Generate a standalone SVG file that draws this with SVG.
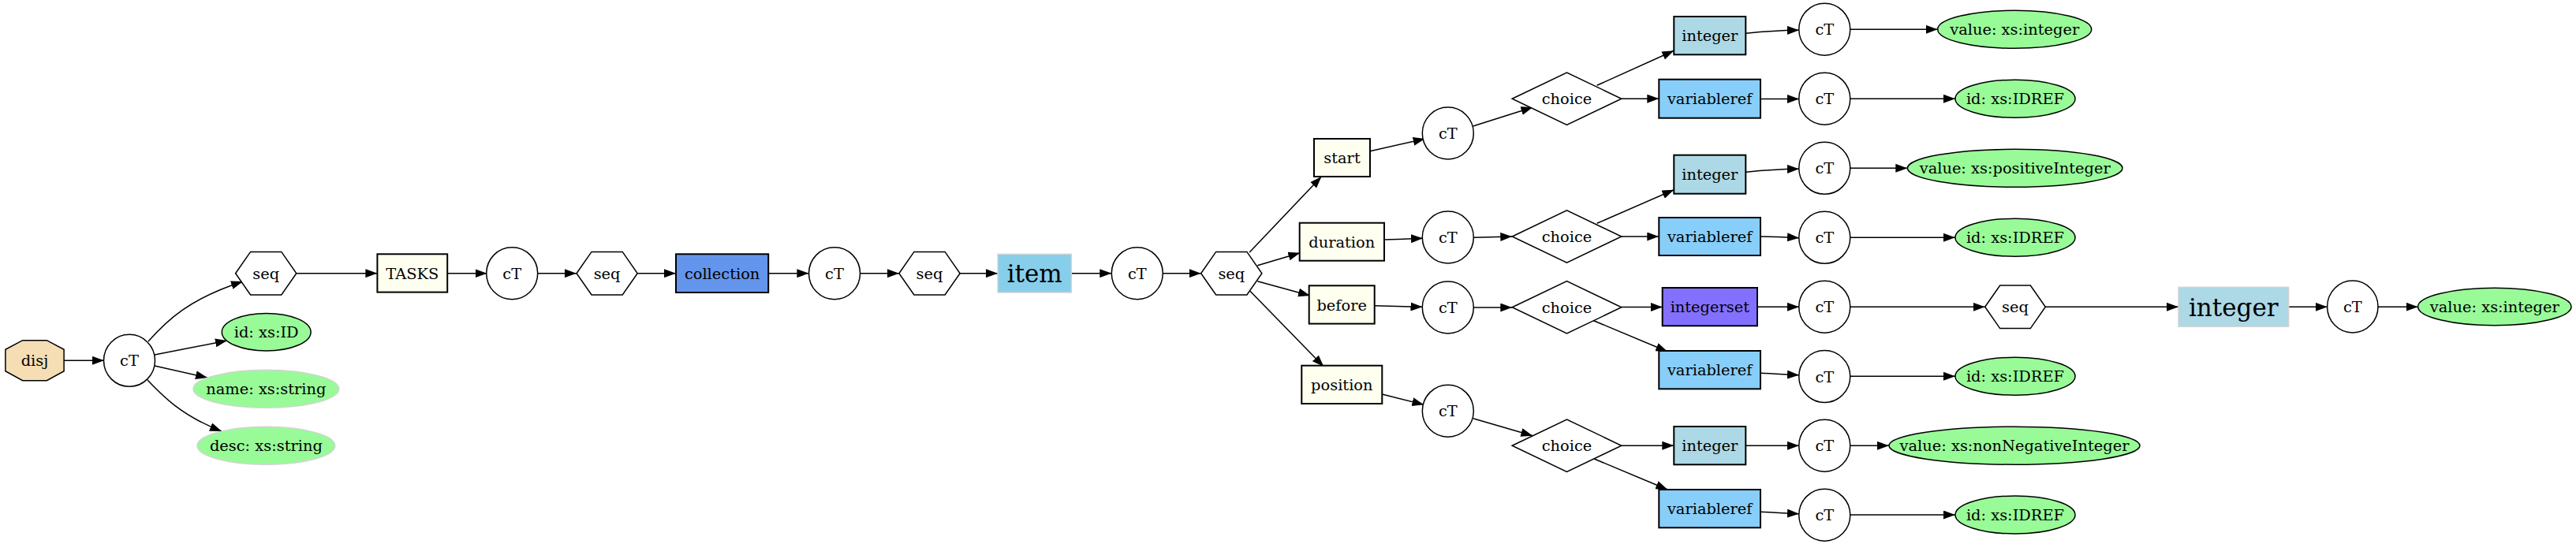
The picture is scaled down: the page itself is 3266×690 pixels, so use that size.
<svg xmlns="http://www.w3.org/2000/svg" width="3266" height="690" viewBox="0 0 3266 690">
<style>
text{font-family:"DejaVu Serif","Liberation Serif",serif;font-size:19.4px;text-anchor:middle;fill:#000}
.big{font-size:31px}
.n{stroke:#000;stroke-width:1.5}
.b{stroke:#000;stroke-width:2}
.lt{stroke:#d3d3d3;stroke-width:1.4}
.w{fill:#fff}
.iv{fill:#fffff0}
.g{fill:#98fb98}
.e{fill:none;stroke:#000;stroke-width:1.5;marker-end:url(#ah)}
</style>
<defs>
<marker id="ah" markerUnits="userSpaceOnUse" markerWidth="15" markerHeight="11" refX="15" refY="5.5" orient="auto" viewBox="0 0 15 11">
<path d="M0,0 L15,5.5 L0,11 z" fill="#000"/>
</marker>
</defs>
<rect width="3266" height="690" fill="#fff"/>
<g id="edges">
<path class="e" d="M81,457.3 L132,457.3"/>
<path class="e" d="M188,433 C212,406 240,379 308,357"/>
<path class="e" d="M196,450 L288,432"/>
<path class="e" d="M196,464 L263,479"/>
<path class="e" d="M187,482 C207,503 230,527 281,547"/>
<path class="e" d="M375.8,346.7 L478.4,346.7"/>
<path class="e" d="M567.2,346.7 L617.5,346.7"/>
<path class="e" d="M681,346.7 L730.8,346.7"/>
<path class="e" d="M808.5,346.7 L857,346.7"/>
<path class="e" d="M974.2,346.7 L1025.4,346.7"/>
<path class="e" d="M1090.5,346.7 L1140,346.7"/>
<path class="e" d="M1217,346.7 L1265,346.7"/>
<path class="e" d="M1358.3,346.7 L1409.3,346.7"/>
<path class="e" d="M1474.3,346.7 L1522.7,346.7"/>
<path class="e" d="M1584.2,320 L1675.4,224"/>
<path class="e" d="M1594.3,336.7 L1648.3,320.7"/>
<path class="e" d="M1594.3,356.7 L1661,375"/>
<path class="e" d="M1585,369.3 L1678.3,465"/>
<path class="e" d="M1737.1,191.7 L1806.6,176"/>
<path class="e" d="M1755,304 C1772,303.5 1788,302.8 1804,302.3"/>
<path class="e" d="M1742.7,387.7 L1803.5,389.3"/>
<path class="e" d="M1752.3,500 L1805.3,513.3"/>
<path class="e" d="M1867.6,160 L1943.4,136"/>
<path class="e" d="M1868.3,301.3 L1917.3,300"/>
<path class="e" d="M1868.3,390 L1917.3,390"/>
<path class="e" d="M1867.7,530.7 L1943.3,552.7"/>
<path class="e" d="M2024.7,108.3 L2122.3,64.3"/>
<path class="e" d="M2055.8,125.2 L2103.3,125.2"/>
<path class="e" d="M2024.7,283.3 L2122.3,240.7"/>
<path class="e" d="M2055.8,300 L2103.3,300"/>
<path class="e" d="M2055.8,389.5 L2107.7,389.5"/>
<path class="e" d="M2020,406.5 L2114.3,446"/>
<path class="e" d="M2055.8,565.2 L2122.3,565.2"/>
<path class="e" d="M2020,581.5 L2114.3,621"/>
<path class="e" d="M2214,42.3 C2240,39.5 2258,38.5 2281,38.3"/>
<path class="e" d="M2232,125.5 L2281,125.5"/>
<path class="e" d="M2214,218.3 C2240,215.5 2258,214.5 2281,214.3"/>
<path class="e" d="M2232,300 C2250,300 2265,300.8 2281,301.7"/>
<path class="e" d="M2228,389.3 L2281,389.3"/>
<path class="e" d="M2232,473.3 C2250,474 2265,475 2281,475.7"/>
<path class="e" d="M2213.3,565.3 L2281,565.3"/>
<path class="e" d="M2232,649.3 C2250,650 2265,651 2281,651.7"/>
<path class="e" d="M2345.8,37.3 L2456.7,37.3"/>
<path class="e" d="M2345.8,125.3 L2479,125.3"/>
<path class="e" d="M2345.8,213.3 L2418.3,213.3"/>
<path class="e" d="M2345.8,301.3 L2479,301.3"/>
<path class="e" d="M2345.8,389.3 L2516.7,389.3"/>
<path class="e" d="M2345.8,477.2 L2479,477.2"/>
<path class="e" d="M2345.8,565.3 L2395,565.3"/>
<path class="e" d="M2345.8,653 L2479,653"/>
<path class="e" d="M2593.3,389.3 L2762,389.3"/>
<path class="e" d="M2901.7,389.3 L2950.7,389.3"/>
<path class="e" d="M3015,389.2 L3065.7,389.2"/>
</g>
<g id="disj"><polygon class="n" fill="#f5deb3" points="28.7,431.7 59.3,431.7 81.1,443.3 81.1,470.7 59.3,482.7 28.7,482.7 6.9,470.7 6.9,443.3"/><text x="44" y="464.3">disj</text></g>
<g id="cT0"><ellipse class="n w" cx="164" cy="457.3" rx="32.5" ry="33"/><text x="164" y="464.3">cT</text></g>
<g id="seq0"><polygon class="n w" points="298.6,346.7 317.6,319.4 356.8,319.4 375.8,346.7 356.8,374 317.6,374"/><text x="337.2" y="353.7">seq</text></g>
<g id="attr_id"><ellipse class="n g" cx="337.7" cy="421.2" rx="56.4" ry="23.8"/><text x="337.7" y="428.2">id: xs:ID</text></g>
<g id="attr_name"><ellipse class="lt g" cx="337.4" cy="493.3" rx="92.4" ry="24"/><text x="337.4" y="500.3">name: xs:string</text></g>
<g id="attr_desc"><ellipse class="lt g" cx="337.4" cy="565.3" rx="87.4" ry="24"/><text x="337.4" y="572.3">desc: xs:string</text></g>
<g id="TASKS"><rect class="b iv" x="478.4" y="322.3" width="88.8" height="48.3"/><text x="522.8" y="353.7">TASKS</text></g>
<g id="cT1"><ellipse class="n w" cx="649.2" cy="346.7" rx="32.5" ry="33"/><text x="649.2" y="353.7">cT</text></g>
<g id="seq1"><polygon class="n w" points="731,346.7 750,319.4 789.2,319.4 808.2,346.7 789.2,374 750,374"/><text x="769.6" y="353.7">seq</text></g>
<g id="collection"><rect class="b" fill="#6495ed" x="857" y="322.3" width="117.2" height="48.7"/><text x="915.6" y="353.7">collection</text></g>
<g id="cT2"><ellipse class="n w" cx="1058" cy="346.7" rx="32.5" ry="33"/><text x="1058" y="353.7">cT</text></g>
<g id="seq2"><polygon class="n w" points="1139.9,346.7 1158.9,319.4 1198.1,319.4 1217.1,346.7 1198.1,374 1158.9,374"/><text x="1178.5" y="353.7">seq</text></g>
<g id="item"><rect class="lt" fill="#87ceeb" x="1265" y="322.3" width="93.3" height="48.7"/><text class="big" x="1311.7" y="358.3">item</text></g>
<g id="cT3"><ellipse class="n w" cx="1441.8" cy="346.7" rx="32.5" ry="33"/><text x="1441.8" y="353.7">cT</text></g>
<g id="seq3"><polygon class="n w" points="1522.7,346.7 1541.7,319.4 1580.9,319.4 1599.9,346.7 1580.9,374 1541.7,374"/><text x="1561.3" y="353.7">seq</text></g>
<g id="start"><rect class="b iv" x="1666" y="176" width="71" height="48"/><text x="1701.5" y="207">start</text></g>
<g id="duration"><rect class="b iv" x="1647.7" y="282.7" width="107.3" height="48"/><text x="1701.3" y="313.7">duration</text></g>
<g id="before"><rect class="b iv" x="1659.7" y="362.3" width="83" height="48.3"/><text x="1701.2" y="393.5">before</text></g>
<g id="position"><rect class="b iv" x="1650.3" y="463.7" width="102" height="48.3"/><text x="1701.3" y="494.8">position</text></g>
<g id="cT_start"><ellipse class="n w" cx="1835.8" cy="169" rx="32.5" ry="33"/><text x="1835.8" y="176">cT</text></g>
<g id="cT_duration"><ellipse class="n w" cx="1835.8" cy="301" rx="32.5" ry="33"/><text x="1835.8" y="308">cT</text></g>
<g id="cT_before"><ellipse class="n w" cx="1835.8" cy="390" rx="32.5" ry="33"/><text x="1835.8" y="397">cT</text></g>
<g id="cT_position"><ellipse class="n w" cx="1835.8" cy="521.2" rx="32.5" ry="33"/><text x="1835.8" y="528.2">cT</text></g>
<g id="choice1"><polygon class="n w" points="1917.2,125.2 1986.5,92 2055.8,125.2 1986.5,158.4"/><text x="1986.5" y="132.2">choice</text></g>
<g id="choice2"><polygon class="n w" points="1917.2,300 1986.5,266.8 2055.8,300 1986.5,333.2"/><text x="1986.5" y="307">choice</text></g>
<g id="choice3"><polygon class="n w" points="1917.2,389.8 1986.5,356.6 2055.8,389.8 1986.5,423"/><text x="1986.5" y="396.8">choice</text></g>
<g id="choice4"><polygon class="n w" points="1917.2,565.2 1986.5,532 2055.8,565.2 1986.5,598.4"/><text x="1986.5" y="572.2">choice</text></g>
<g id="integer1"><rect class="b" fill="#add8e6" x="2122.3" y="21" width="91" height="48.3"/><text x="2167.8" y="52">integer</text></g>
<g id="variableref1"><rect class="b" fill="#87cefa" x="2103.3" y="100.7" width="128.7" height="49"/><text x="2167.7" y="132.2">variableref</text></g>
<g id="integer2"><rect class="b" fill="#add8e6" x="2122.3" y="196.7" width="91" height="49"/><text x="2167.8" y="228.2">integer</text></g>
<g id="variableref2"><rect class="b" fill="#87cefa" x="2103.3" y="276" width="128.7" height="48"/><text x="2167.7" y="307">variableref</text></g>
<g id="integerset"><rect class="b" fill="#8470ff" x="2107.7" y="365" width="120.3" height="48.3"/><text x="2167.8" y="396.2">integerset</text></g>
<g id="variableref3"><rect class="b" fill="#87cefa" x="2103.3" y="445" width="128.7" height="48.3"/><text x="2167.7" y="476.2">variableref</text></g>
<g id="integer4"><rect class="b" fill="#add8e6" x="2122.3" y="541" width="91" height="48.3"/><text x="2167.8" y="572.2">integer</text></g>
<g id="variableref4"><rect class="b" fill="#87cefa" x="2103.3" y="621" width="128.7" height="48.3"/><text x="2167.7" y="652.2">variableref</text></g>
<g id="cT_r1"><ellipse class="n w" cx="2313.3" cy="37.2" rx="32.5" ry="33"/><text x="2313.3" y="44.2">cT</text></g>
<g id="cT_r2"><ellipse class="n w" cx="2313.3" cy="125.2" rx="32.5" ry="33"/><text x="2313.3" y="132.2">cT</text></g>
<g id="cT_r3"><ellipse class="n w" cx="2313.3" cy="213.3" rx="32.5" ry="33"/><text x="2313.3" y="220.3">cT</text></g>
<g id="cT_r4"><ellipse class="n w" cx="2313.3" cy="301.3" rx="32.5" ry="33"/><text x="2313.3" y="308.3">cT</text></g>
<g id="cT_r5"><ellipse class="n w" cx="2313.3" cy="389.2" rx="32.5" ry="33"/><text x="2313.3" y="396.2">cT</text></g>
<g id="cT_r6"><ellipse class="n w" cx="2313.3" cy="477.5" rx="32.5" ry="33"/><text x="2313.3" y="484.5">cT</text></g>
<g id="cT_r7"><ellipse class="n w" cx="2313.3" cy="565.2" rx="32.5" ry="33"/><text x="2313.3" y="572.2">cT</text></g>
<g id="cT_r8"><ellipse class="n w" cx="2313.3" cy="653.2" rx="32.5" ry="33"/><text x="2313.3" y="660.2">cT</text></g>
<g id="val1"><ellipse class="n g" cx="2554.2" cy="37.3" rx="97.5" ry="24"/><text x="2554.2" y="44.3">value: xs:integer</text></g>
<g id="idref1"><ellipse class="n g" cx="2555" cy="125.3" rx="76" ry="24"/><text x="2555" y="132.3">id: xs:IDREF</text></g>
<g id="val2"><ellipse class="n g" cx="2554.7" cy="213.3" rx="136.3" ry="24"/><text x="2554.7" y="220.3">value: xs:positiveInteger</text></g>
<g id="idref2"><ellipse class="n g" cx="2555" cy="301.2" rx="76" ry="24"/><text x="2555" y="308.2">id: xs:IDREF</text></g>
<g id="seq4"><polygon class="n w" points="2516.7,389.3 2535.7,362 2574.3,362 2593.3,389.3 2574.3,416.6 2535.7,416.6"/><text x="2555" y="396.3">seq</text></g>
<g id="idref3"><ellipse class="n g" cx="2555" cy="477.2" rx="76" ry="24"/><text x="2555" y="484.2">id: xs:IDREF</text></g>
<g id="val3"><ellipse class="n g" cx="2554" cy="565.2" rx="159" ry="24"/><text x="2554" y="572.2">value: xs:nonNegativeInteger</text></g>
<g id="idref4"><ellipse class="n g" cx="2555" cy="653" rx="76" ry="24"/><text x="2555" y="660">id: xs:IDREF</text></g>
<g id="integer_big"><rect class="lt" fill="#add8e6" x="2762" y="364.3" width="139.7" height="50"/><text class="big" x="2831.8" y="400.8">integer</text></g>
<g id="cT_last"><ellipse class="n w" cx="2982.8" cy="389" rx="32.2" ry="33"/><text x="2982.8" y="396">cT</text></g>
<g id="val_last"><ellipse class="n g" cx="3162.8" cy="389" rx="97.2" ry="23.8"/><text x="3162.8" y="396">value: xs:integer</text></g>
</svg>
